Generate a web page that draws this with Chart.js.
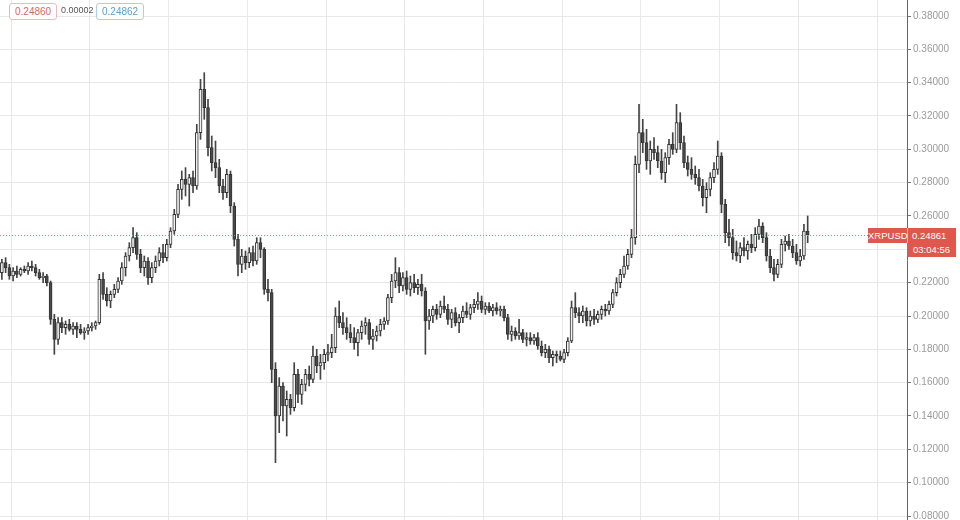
<!DOCTYPE html>
<html>
<head>
<meta charset="utf-8">
<title>XRPUSD</title>
<script src="https://cdn.jsdelivr.net/npm/chart.js@4.4.0/dist/chart.umd.min.js"></script>
<style>
  html, body { margin: 0; padding: 0; background: #fff; }
  #wrap { position: relative; width: 960px; height: 520px; overflow: hidden; font-family: "Liberation Sans", Arial, sans-serif; }
  canvas { display: block; }
  .lg { position: absolute; top: 3px; height: 17px; box-sizing: border-box; font-size: 10px; line-height: 15px; padding: 0 5px; border-radius: 3px; }
  #lgOpen { left: 9px; color: #d26a64; border: 1px solid #e7bdba; background: #fff; }
  #lgDiff { left: 56px; color: #555; font-size: 9px; }
  #lgClose { left: 96px; color: #5aa0c8; border: 1px solid #a8d1e5; background: #fff; }
  #tag { position: absolute; left: 868px; width: 88px; height: 15px; background: #e0574e; color: #fff; font-size: 9.5px; line-height: 15px; white-space: nowrap; }
  #tag span { display: inline-block; }
  #tag .sym { width: 39px; text-align: center; border-right: 1px solid #f3b3ae; }
  #tag .px { padding-left: 4px; }
  #timer { position: absolute; left: 907px; width: 49px; height: 14px; background: #e0574e; color: #fff; font-size: 9.5px; line-height: 14px; text-align: center; }
</style>
</head>
<body>
<div id="wrap">
  <canvas id="chart" width="960" height="520"></canvas>
  <div class="lg" id="lgOpen">0.24860</div>
  <div class="lg" id="lgDiff">0.00002</div>
  <div class="lg" id="lgClose">0.24862</div>
  <div id="tag"><span class="sym">XRPUSD</span><span class="px">0.24861</span></div>
  <div id="timer">03:04:56</div>
</div>
<script>
// daily candles
const opens = [
  .226,.232,.229,.224,.227,.225,.228,.227,.230,.229,
  .226,.223,.224,.220,.198,.186,.196,.193,.195,.192,
  .194,.192,.190,.191,.193,.194,.196,.222,.213,.209,
  .213,.216,.221,.229,.236,.241,.247,.237,.229,.233,
  .223,.229,.233,.238,.235,.243,.251,.261,.276,.282,
  .279,.283,.278,.310,.336,.325,.301,.292,.289,.278,
  .274,.285,.266,.246,.231,.236,.232,.238,.233,.244,
  .240,.216,.214,.168,.140,.158,.146,.150,.145,.165,
  .153,.159,.165,.162,.176,.170,.172,.177,.178,
  .181,.200,.196,.193,.190,.187,.184,.190,.194,.196,
  .186,.188,.191,.195,.197,.211,.221,.226,.218,.223,
  .216,.220,.217,.219,.215,.197,.200,.204,.201,.206,
  .204,.198,.202,.196,.199,.203,.201,.205,.207,.209,
  .204,.206,.203,.205,.203,.204,.199,.189,.191,.188,
  .190,.186,.187,.185,.187,.182,.178,.180,.175,
  .177,.176,.174,.178,.185,.205,.202,.200,.203,.197,
  .200,.198,.201,.204,.203,.207,.214,.220,.225,.230,
  .237,.247,.291,.310,.304,.293,.300,.298,.293,.286,
  .295,.303,.300,.316,.304,.292,.288,.285,.283,.278,
  .271,.276,.283,.288,.296,.267,.250,.247,.238,.236,
  .241,.239,.243,.241,.249,.254,.247,.236,.229,.225,
  .231,.243,.245,.242,.238,.233,.236,.251
];
const highs = [
  .234,.235,.231,.229,.230,.229,.230,.232,.233,.231,
  .228,.226,.225,.221,.201,.199,.199,.197,.198,.196,
  .196,.195,.193,.195,.196,.197,.225,.226,.217,.215,
  .219,.223,.232,.238,.244,.253,.250,.240,.236,.235,
  .232,.236,.241,.243,.246,.253,.264,.279,.287,.289,
  .285,.287,.315,.342,.346,.330,.308,.305,.294,.282,
  .288,.287,.268,.249,.240,.239,.241,.242,.247,.247,
  .241,.222,.216,.172,.163,.160,.155,.153,.172,.168,
  .162,.168,.170,.182,.180,.177,.180,.183,.189,
  .205,.209,.202,.199,.195,.193,.192,.197,.199,.198,
  .192,.194,.198,.199,.213,.225,.235,.229,.226,.227,
  .224,.225,.222,.225,.217,.204,.206,.207,.209,.212,
  .207,.204,.205,.201,.206,.208,.207,.210,.214,.212,
  .208,.208,.207,.208,.206,.206,.201,.194,.193,.198,
  .192,.190,.190,.189,.190,.185,.183,.182,.179,
  .179,.179,.180,.187,.209,.214,.205,.206,.205,.203,
  .204,.203,.206,.207,.209,.216,.223,.228,.236,.240,
  .252,.296,.327,.318,.312,.305,.307,.302,.300,.298,
  .306,.310,.327,.322,.308,.296,.295,.290,.288,.282,
  .280,.286,.292,.305,.298,.270,.258,.252,.245,.244,
  .247,.245,.249,.253,.258,.256,.250,.240,.234,.234,
  .246,.248,.249,.246,.243,.240,.255,.260
];
const lows = [
  .222,.226,.222,.221,.223,.224,.226,.225,.227,.224,
  .222,.220,.218,.195,.177,.183,.190,.189,.191,.189,
  .187,.189,.186,.189,.191,.192,.195,.210,.206,.205,
  .211,.214,.219,.224,.233,.238,.234,.226,.224,.219,
  .220,.226,.230,.232,.233,.241,.249,.259,.270,.272,
  .266,.274,.276,.306,.318,.296,.287,.283,.274,.270,
  .271,.262,.242,.224,.226,.228,.229,.230,.231,.235,
  .213,.209,.160,.112,.130,.137,.128,.141,.143,.148,
  .147,.155,.158,.160,.166,.162,.168,.173,.175,
  .178,.193,.189,.186,.184,.180,.176,.186,.189,.183,
  .180,.185,.188,.192,.195,.208,.217,.214,.215,.213,
  .212,.214,.213,.212,.177,.192,.196,.198,.199,.202,
  .195,.193,.194,.190,.196,.199,.198,.202,.204,.202,
  .201,.202,.200,.201,.200,.197,.186,.185,.186,.186,
  .184,.182,.183,.183,.180,.176,.175,.172,.170,
  .172,.173,.172,.176,.184,.199,.196,.196,.194,.194,
  .195,.196,.198,.200,.201,.205,.212,.217,.223,.228,
  .235,.243,.286,.298,.288,.285,.294,.289,.282,.280,
  .291,.297,.298,.300,.289,.284,.282,.279,.275,.266,
  .262,.272,.280,.285,.262,.244,.242,.234,.233,.232,
  .236,.234,.238,.239,.246,.244,.233,.226,.221,.223,
  .229,.239,.240,.235,.231,.230,.234,.244
];
const closes = [
  .232,.229,.224,.227,.225,.228,.227,.230,.229,.226,
  .223,.224,.220,.198,.186,.196,.193,.195,.192,.194,
  .192,.190,.191,.193,.194,.196,.222,.213,.209,.213,
  .216,.221,.229,.236,.241,.247,.237,.229,.233,.223,
  .229,.233,.238,.235,.243,.251,.261,.276,.282,.279,
  .283,.278,.310,.336,.325,.301,.292,.289,.278,.274,
  .285,.266,.246,.231,.236,.232,.238,.233,.244,.240,
  .216,.214,.168,.140,.158,.146,.150,.145,.165,.153,
  .159,.165,.162,.176,.170,.172,.177,.178,.181,
  .200,.196,.193,.190,.187,.184,.190,.194,.196,.186,
  .188,.191,.195,.197,.211,.221,.226,.218,.223,.216,
  .220,.217,.219,.215,.197,.200,.204,.201,.206,.204,
  .198,.202,.196,.199,.203,.201,.205,.207,.209,.204,
  .206,.203,.205,.203,.204,.199,.189,.191,.188,.190,
  .186,.187,.185,.187,.182,.178,.180,.175,.177,
  .176,.174,.178,.185,.205,.202,.200,.203,.197,.200,
  .198,.201,.204,.203,.207,.214,.220,.225,.230,.237,
  .247,.291,.310,.304,.293,.300,.298,.293,.286,.295,
  .303,.300,.316,.304,.292,.288,.285,.283,.278,.271,
  .276,.283,.288,.296,.267,.250,.247,.238,.236,.241,
  .239,.243,.241,.249,.254,.247,.236,.229,.225,.231,
  .243,.245,.242,.238,.233,.236,.251,.24861
];
const priceTicks = [0.08, 0.10, 0.12, 0.14, 0.16, 0.18, 0.20, 0.22, 0.24, 0.26, 0.28, 0.30, 0.32, 0.34, 0.36, 0.38];
const lastPrice = 0.24861;

// empty slots on the right, like the trading screen leaves
const slotCount = 242;
const categories = Array.from({ length: slotCount }, (_, i) => 'D' + (i + 1));
const gridStart = 3;
const gridEvery = 21;

const gridColor = '#e8e8e8';

const priceLine = {
  id: 'priceLine',
  afterDraw(chart) {
    const { ctx, chartArea } = chart;
    const y = Math.round(chart.scales.y.getPixelForValue(lastPrice)) + 0.5;
    ctx.save();
    ctx.strokeStyle = '#e0776f';
    ctx.lineWidth = 1;
    ctx.setLineDash([1, 2]);
    ctx.beginPath();
    ctx.moveTo(chartArea.left, y);
    ctx.lineTo(chartArea.right, y);
    ctx.stroke();
    ctx.restore();
    document.getElementById('tag').style.top = (y - 8) + 'px';
    document.getElementById('timer').style.top = (y + 7) + 'px';
  }
};

new Chart(document.getElementById('chart').getContext('2d'), {
  type: 'bar',
  data: {
    labels: categories,
    datasets: [
      {
        label: 'wick',
        data: lows.map((l, i) => [l, highs[i]]),
        backgroundColor: '#444444',
        barThickness: 1,
        grouped: false,
        order: 2
      },
      {
        label: 'body',
        data: opens.map((o, i) => [o, closes[i]]),
        backgroundColor: ctx => closes[ctx.dataIndex] >= opens[ctx.dataIndex] ? '#f2f2f2' : '#4a4a4a',
        borderColor: '#333333',
        borderWidth: 1,
        borderSkipped: false,
        barThickness: 3,
        grouped: false,
        order: 1
      }
    ]
  },
  options: {
    responsive: false,
    animation: false,
    layout: { padding: 0 },
    plugins: { legend: { display: false }, tooltip: { enabled: false } },
    scales: {
      x: {
        offset: true,
        ticks: { display: false, autoSkip: false },
        grid: {
          offset: true,
          drawTicks: false,
          color: ctx => (ctx.index >= gridStart && (ctx.index - gridStart) % gridEvery === 0) ? gridColor : 'rgba(0,0,0,0)'
        },
        border: { display: false },
        afterFit: s => { s.height = 0; s.paddingLeft = 0; s.paddingRight = 0; }
      },
      y: {
        position: 'right',
        min: 0.0776,
        max: 0.3896,
        afterBuildTicks: s => { s.ticks = priceTicks.map(v => ({ value: v })); },
        afterFit: s => { s.width = 53; s.paddingTop = 0; s.paddingBottom = 0; },
        grid: { color: gridColor, tickLength: 4, tickColor: '#777' },
        border: { color: '#666', width: 1 },
        ticks: {
          callback: v => Number(v).toFixed(5),
          color: '#9a9a9a',
          padding: 2,
          font: { size: 10, family: 'Liberation Sans' }
        }
      }
    }
  },
  plugins: [priceLine]
});
</script>
</body>
</html>
